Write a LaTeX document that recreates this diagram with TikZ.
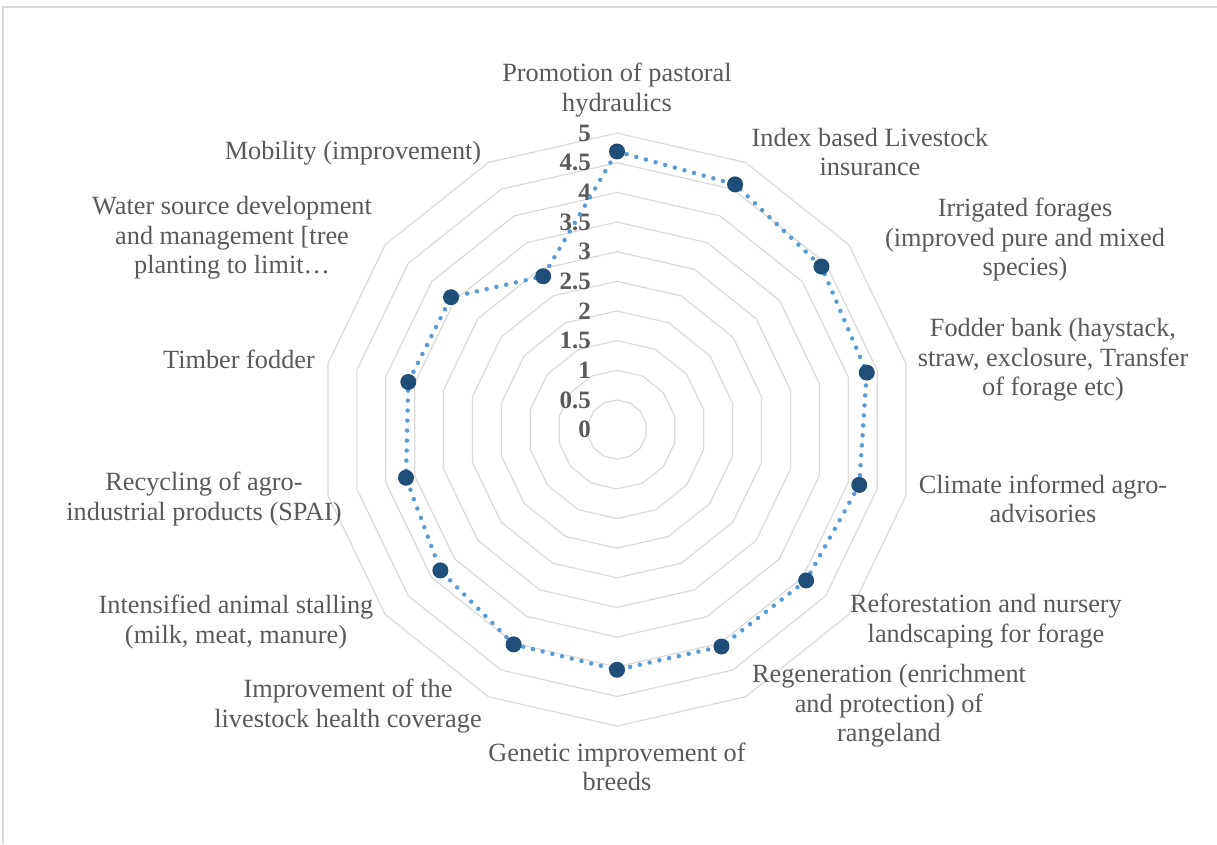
\documentclass[tikz,border=0pt]{standalone}
\usepackage{fontspec}
\setmainfont{Liberation Serif}
\usetikzlibrary{calc}
\definecolor{gridc}{HTML}{D9D9D9}
\definecolor{txt}{HTML}{595959}
\definecolor{lineblue}{HTML}{5B9BD5}
\definecolor{markblue}{HTML}{1F4E79}
\begin{document}
\begin{tikzpicture}[x=1pt,y=1pt,
  ring/.style={draw=gridc,line width=1.2pt},
  frame/.style={draw=gridc,line width=1.5pt},
  cat/.style={text=txt,font=\fontsize{26.3}{29.5}\selectfont,align=center,inner sep=0pt},
  tick/.style={text=txt,font=\fontsize{25}{25}\selectfont\bfseries,anchor=east,inner sep=0pt},
  datum/.style={circle,fill=markblue,minimum size=16pt,inner sep=0pt},
  series/.style={draw=lineblue,line width=4.5pt,line cap=round,dash pattern=on 0pt off 10pt}]
\useasboundingbox (0,0) rectangle (1217,844);
\draw[frame] (3,0) -- (3,837) -- (1217,837);
\coordinate (O) at (617,414.4);
% grid rings
\foreach \i in {1,...,10} {
  \draw[ring] ($(O)+(90:\i*29.65)$) \foreach \k in {1,...,13} { -- ($(O)+(90-\k*360/14:\i*29.65)$) } -- cycle;
}
% tick labels
\foreach \v [count=\i from 0] in {0,0.5,1,1.5,2,2.5,3,3.5,4,4.5,5} {
  \node[tick] (t\i) at (591,414.4+\i*29.65) {\v};
}
% data
\foreach \v [count=\k from 0] in {4.69,4.59,4.41,4.32,4.19,4.08,4.06,4.05,4.02,3.81,3.65,3.61,3.58,2.87} {
  \coordinate (p\k) at ($(O)+(90-\k*360/14:\v*59.3)$);
}
\draw[series] (p0) \foreach \k in {1,...,13} { -- (p\k) } -- cycle;
\foreach \k in {0,...,13} { \node[datum] (m\k) at (p\k) {}; }
% category labels
\node[cat] (c0) at (617,754) {Promotion of pastoral\\hydraulics};
\node[cat] (c1) at (870,692) {Index based Livestock\\insurance};
\node[cat] (c2) at (1025,604) {Irrigated forages\\(improved pure and mixed\\species)};
\node[cat] (c3) at (1053,484) {Fodder bank (haystack,\\straw, exclosure, Transfer\\of forage etc)};
\node[cat] (c4) at (1043,345) {Climate informed agro-\\advisories};
\node[cat] (c5) at (986,223) {Reforestation and nursery\\landscaping for forage};
\node[cat] (c6) at (889,138) {Regeneration (enrichment\\and protection) of\\rangeland};
\node[cat] (c7) at (617,77) {Genetic improvement of\\breeds};
\node[cat] (c8) at (348,138) {Improvement of the\\livestock health coverage};
\node[cat] (c9) at (236,222) {Intensified animal stalling\\(milk, meat, manure)};
\node[cat] (c10) at (204,345) {Recycling of agro-\\industrial products (SPAI)};
\node[cat] (c11) at (239,485) {Timber fodder};
\node[cat] (c12) at (232,606) {Water source development\\and management [tree\\planting to limit…};
\node[cat] (c13) at (353,691) {Mobility (improvement)};
\end{tikzpicture}
\end{document}
